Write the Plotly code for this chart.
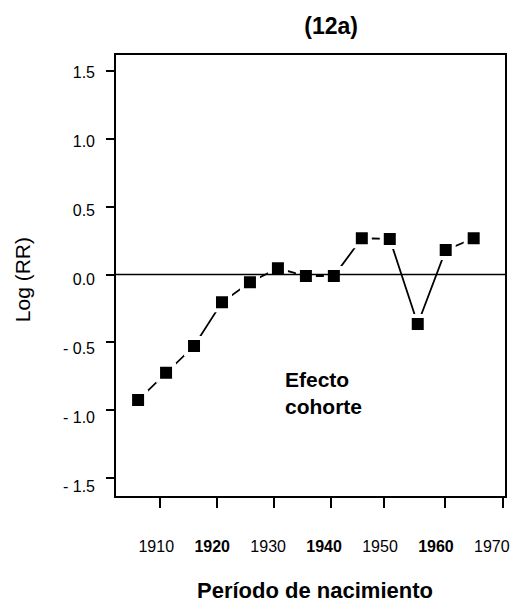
import plotly.graph_objects as go

# Data
cohort_year = [1906.75, 1911.75, 1916.75, 1921.75, 1926.75, 1931.75, 1936.75,
               1941.75, 1946.75, 1951.75, 1956.75, 1961.75, 1966.75]
log_rr = [-0.925, -0.724, -0.527, -0.205, -0.057, 0.046, -0.011,
          -0.011, 0.267, 0.262, -0.365, 0.18, 0.267]

x_tick_vals = [1910, 1920, 1930, 1940, 1950, 1960, 1970]
x_tick_text = ["1910", "<b>1920</b>", "1930", "<b>1940</b>", "1950", "<b>1960</b>", "1970"]
x_tick_marks = [1910.6, 1920.9, 1931.0, 1941.3, 1950.8, 1961.7, 1972.0]

y_tick_vals = [1.5, 1.0, 0.5, 0.0, -0.5, -1.0, -1.5]
y_tick_text = ["1.5", "1.0", "0.5", "0.0", "- 0.5", "- 1.0", "- 1.5"]

FONT = "Liberation Sans, Arial, sans-serif"
XR = [1902.8, 1972.35]
YR = [-1.632, 1.6175]
YR2 = [-1.572, 1.628]

fig = go.Figure()
fig.add_trace(go.Scatter(
    x=cohort_year, y=log_rr, mode="lines+markers",
    line=dict(color="black", width=1.8),
    marker=dict(symbol="square", size=16, color="black",
                line=dict(color="white", width=4)),
    showlegend=False, hoverinfo="skip",
))
# invisible companion trace so the tick-label axes get drawn
fig.add_trace(go.Scatter(
    x=cohort_year, y=log_rr, xaxis="x2", yaxis="y2", mode="markers",
    marker=dict(opacity=0), showlegend=False, hoverinfo="skip",
))

fig.update_layout(
    width=516, height=603,
    margin=dict(l=116, r=6, t=55, b=107),
    paper_bgcolor="white", plot_bgcolor="white",
    font=dict(family=FONT, color="black", size=16),
    xaxis=dict(range=XR, tickvals=x_tick_marks,
               ticks="outside", ticklen=10, tickwidth=1.6, tickcolor="black",
               showticklabels=False, showgrid=False, zeroline=False,
               showline=True, linecolor="black", linewidth=1.6, mirror=True),
    xaxis2=dict(range=XR, overlaying="x", anchor="y", side="bottom",
                tickvals=x_tick_vals, ticktext=x_tick_text, ticks="",
                showgrid=False, zeroline=False, showline=False,
                ticklabelstandoff=39, tickfont=dict(size=16)),
    yaxis=dict(range=YR, tickvals=y_tick_vals,
               ticks="outside", ticklen=8, tickwidth=1.6, tickcolor="black",
               showticklabels=False, showgrid=False, zeroline=False,
               showline=True, linecolor="black", linewidth=1.6, mirror=True),
    yaxis2=dict(range=YR2, overlaying="y", anchor="x", side="left",
                tickvals=y_tick_vals, ticktext=y_tick_text, ticks="",
                showgrid=False, zeroline=False, showline=False,
                ticklabelstandoff=20, tickfont=dict(size=16)),
    shapes=[dict(type="line", xref="paper", yref="y", x0=0, x1=1, y0=0, y1=0,
                 line=dict(color="black", width=1.6), layer="above")],
    title=dict(text="<b>(12a)</b>", x=0.553, xref="paper", xanchor="center",
               y=1 - 26 / 603, yref="container", yanchor="middle",
               font=dict(size=23)),
    annotations=[
        dict(text="<b>Período de nacimiento</b>", xref="paper", yref="paper",
             x=0.511, y=-0.2132, showarrow=False, xanchor="center",
             yanchor="middle", font=dict(size=22)),
        dict(text="Log (RR)", xref="paper", yref="paper", x=-0.2386, y=0.4898,
             textangle=-90, showarrow=False, xanchor="center",
             yanchor="middle", font=dict(size=21)),
        dict(text="<b>Efecto<br>cohorte</b>", xref="x", yref="y",
             x=1932.6, y=-0.873, showarrow=False, xanchor="left",
             yanchor="middle", align="left", font=dict(size=21)),
    ],
)

fig.write_html("out.html")
